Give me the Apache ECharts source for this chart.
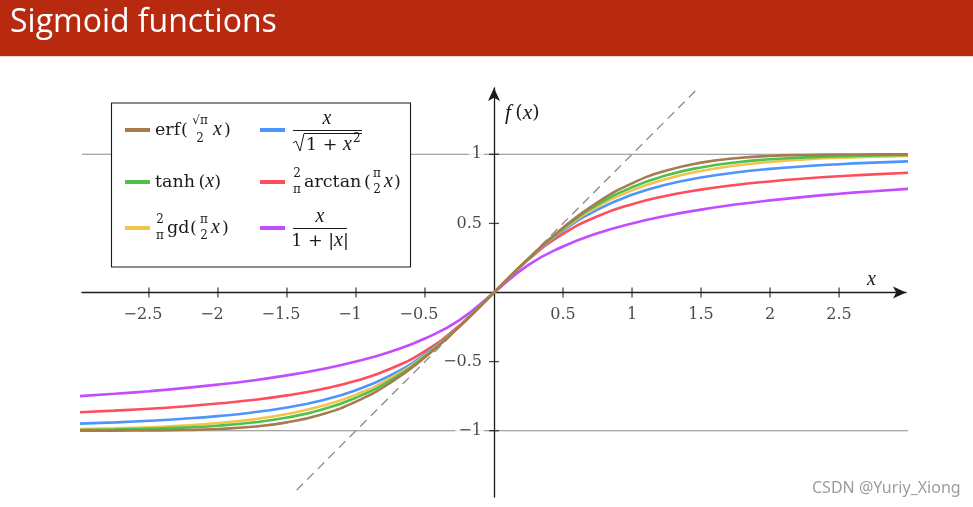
<!DOCTYPE html>
<html>
<head>
<meta charset="utf-8">
<script src="https://cdn.jsdelivr.net/npm/echarts@6/dist/echarts.min.js"></script>
<style>
html,body{margin:0;padding:0;background:#fff;}
#chart{width:973px;height:507px;}
</style>
</head>
<body>
<div id="chart"></div>
<script>
// ---- data ----
const xs = [-3,-2.75,-2.5,-2.25,-2,-1.75,-1.5,-1.25,-1,-0.75,-0.5,-0.25,0,0.25,0.5,0.75,1,1.25,1.5,1.75,2,2.25,2.5,2.75,3];
const erfVals  = [-0.9998,-0.9994,-0.9983,-0.9953,-0.9879,-0.9718,-0.9400,-0.8828,-0.7900,-0.6528,-0.4691,-0.2460,0,0.2460,0.4691,0.6528,0.7900,0.8828,0.9400,0.9718,0.9879,0.9953,0.9983,0.9994,0.9998];
const tanhVals = [-0.9951,-0.9918,-0.9866,-0.9780,-0.9640,-0.9414,-0.9051,-0.8483,-0.7616,-0.6351,-0.4621,-0.2449,0,0.2449,0.4621,0.6351,0.7616,0.8483,0.9051,0.9414,0.9640,0.9780,0.9866,0.9918,0.9951];
const sqrtVals = [-0.9487,-0.9398,-0.9285,-0.9138,-0.8944,-0.8682,-0.8321,-0.7809,-0.7071,-0.6000,-0.4472,-0.2425,0,0.2425,0.4472,0.6000,0.7071,0.7809,0.8321,0.8682,0.8944,0.9138,0.9285,0.9398,0.9487];
const atanVals = [-0.8670,-0.8552,-0.8417,-0.8246,-0.8038,-0.7779,-0.7445,-0.7002,-0.6391,-0.5520,-0.4239,-0.2383,0,0.2383,0.4239,0.5520,0.6391,0.7002,0.7445,0.7779,0.8038,0.8246,0.8417,0.8552,0.8670];
const gdVals   = [-0.9885,-0.9830,-0.9749,-0.9628,-0.9448,-0.9189,-0.8794,-0.8222,-0.7390,-0.6197,-0.4556,-0.2439,0,0.2439,0.4556,0.6197,0.7390,0.8222,0.8794,0.9189,0.9448,0.9628,0.9749,0.9830,0.9885];
const absVals  = [-0.7500,-0.7333,-0.7143,-0.6923,-0.6667,-0.6364,-0.6000,-0.5556,-0.5000,-0.4286,-0.3333,-0.2000,0,0.2000,0.3333,0.4286,0.5000,0.5556,0.6000,0.6364,0.6667,0.6923,0.7143,0.7333,0.7500];
const diagX = [-1.43, 1.46];
const refLevels = [1, -1];
const refX = [-2.985, 3];
const xTickVals = [-2.5,-2,-1.5,-1,-0.5,0.5,1,1.5,2,2.5];
const yTickVals = [-1,-0.5,0.5,1];
const titleText = 'Sigmoid functions';
const watermark = 'CSDN @Yuriy_Xiong';

const C = {erf:'#A87A4E', tanh:'#4CC24C', sqrt:'#4D94FF', atan:'#FF4D5B', gd:'#F4C34B', abs:'#C24DFF'};
const SERIF = '"DejaVu Serif"';
const ITAL = '"Liberation Serif"';
const ink = '#1a1a1a';

const pair = (arr) => xs.map((x,i)=>[x, arr[i]]);
const fmtNum = v => String(v).replace('-', '\u2212');

function curve(name, arr, color){
  return {name, type:'line', data:pair(arr), showSymbol:false, smooth:0.5,
    clip:false, z:3, lineStyle:{color, width:2.6}, itemStyle:{color}, silent:true};
}

// legend helpers (graphic)
function t(x, y, text, size, italic, align){
  const font = italic ? ('italic '+(size+2.5)+'px '+ITAL) : (size+'px '+SERIF);
  return {type:'text', x, y, z:102, silent:true, style:{text, font, fill:ink, align:align||'left', verticalAlign:'middle'}};
}
function rt(x, y, text, size, align){
  return {type:'text', x, y, z:102, silent:true, style:{text, align:align||'left', verticalAlign:'middle', fill:ink,
    rich:{n:{fontFamily:SERIF, fontSize:size, fill:ink}, i:{fontFamily:ITAL, fontSize:size+2.5, fontStyle:'italic', fill:ink}}}};
}
function sw(x, y, color){
  return {type:'line', z:102, silent:true, shape:{x1:x, y1:y, x2:x+25, y2:y}, style:{stroke:color, lineWidth:4}};
}
function hl(x1, x2, y){
  return {type:'line', z:102, silent:true, shape:{x1, y1:y, x2, y2:y}, style:{stroke:ink, lineWidth:1}};
}

const LS = 17.5, FS = 12;
const graphics = [
  {type:'rect', z:90, silent:true, shape:{x:0, y:0, width:973, height:56}, style:{fill:'#B72A10'}},
  {type:'rect', z:90, silent:true, shape:{x:0, y:56, width:973, height:1}, style:{fill:'#E6D6D2'}},
  {type:'text', z:91, x:10, y:23, silent:true, style:{text:titleText, font:'32px "Open Sans"', fill:'#fff', verticalAlign:'middle'}},
  // legend box
  {type:'rect', z:100, silent:true, shape:{x:111.5, y:103, width:299, height:164}, style:{fill:'#fff', stroke:ink, lineWidth:1.1}},
  sw(125,130,C.erf), sw(260,130,C.sqrt),
  sw(125,182,C.tanh), sw(260,182,C.atan),
  sw(125,228,C.gd), sw(260,228,C.abs),
  // erf(√π/2 x)
  t(155,130,'erf',LS), t(181,130,'(',LS), t(200,121,'\u221A\u03C0',FS,false,'center'), t(200,139,'2',FS,false,'center'),
  t(213,130,'x',LS,true), t(224,130,')',LS),
  // x / sqrt(1+x^2)
  t(327,119,'x',LS,true,'center'), hl(293,362,130.5),
  {type:'polyline', z:102, silent:true, shape:{points:[[293,143],[296,141],[300,151],[304,133.5],[362,133.5]]}, style:{stroke:ink, lineWidth:1, fill:null}},
  rt(306,145,'{n|1 + }{i|x}',LS), t(353,139,'2',FS),
  // tanh(x)
  rt(155,182,'{n|tanh\u2009(}{i|x}{n|)}',LS),
  // 2/π arctan(π/2 x)
  t(297,174,'2',FS,false,'center'), t(297,190,'\u03C0',FS,false,'center'),
  t(304,182,'arctan',LS), t(364,182,'(',LS), t(377,174,'\u03C0',FS,false,'center'), t(377,190,'2',FS,false,'center'),
  t(384,182,'x',LS,true), t(394,182,')',LS),
  // 2/π gd(π/2 x)
  t(160,220,'2',FS,false,'center'), t(160,236,'\u03C0',FS,false,'center'),
  t(167,228,'gd',LS), t(190,228,'(',LS), t(204,220,'\u03C0',FS,false,'center'), t(204,236,'2',FS,false,'center'),
  t(211,228,'x',LS,true), t(222,228,')',LS),
  // x / (1+|x|)
  t(320,217,'x',LS,true,'center'), hl(293,347,228.5), rt(320,241,'{n|1 + |}{i|x}{n||}',LS,'center'),
  // axis names
  rt(505,113,'{i|f\u2009}{n|(}{i|x}{n|)}',19),
  t(867,280,'x',LS,true),
  // watermark
  {type:'text', z:110, x:812, y:488, silent:true, style:{text:watermark, font:'16px "Noto Sans"', fill:'#9c9c9c', verticalAlign:'middle'}}
];

const chart = echarts.init(document.getElementById('chart'), null, {renderer:'canvas'});
const axisLineStyle = {color:ink, width:1.3};
const tickLabelStyle = {fontFamily:SERIF, fontSize:16, color:ink};
chart.setOption({
  animation:false,
  backgroundColor:'#fff',
  grid:{left:82, right:67, top:88, bottom:10, containLabel:false, outerBoundsMode:'none'},
  xAxis:{type:'value', min:-2.985, max:2.985, z:1,
    axisLine:{onZero:true, lineStyle:axisLineStyle, symbol:['none','arrow'], symbolSize:[9,13]},
    axisTick:{show:false}, splitLine:{show:false}, axisLabel:{show:false}},
  yAxis:{type:'value', min:-1.48, max:1.48, z:1,
    axisLine:{onZero:true, lineStyle:axisLineStyle, symbol:['none','arrow'], symbolSize:[9,13]},
    axisTick:{show:false}, splitLine:{show:false}, axisLabel:{show:false}},
  graphic:graphics,
  series:[
    ...refLevels.map(lv => ({type:'line', data:refX.map(x=>[x,lv]), showSymbol:false, clip:false, z:0, silent:true,
      lineStyle:{color:'#8a8a8a', width:1.1}})),
    {type:'scatter', data:xTickVals.map(v=>({value:[v,0], label:{offset:[v<0?-6:0,0]}})), symbol:'rect', symbolSize:[1.3,10], z:2, silent:true, itemStyle:{color:ink},
      label:{show:true, position:'bottom', distance:9, ...tickLabelStyle,
        formatter:p => fmtNum(p.value[0])}},
    {type:'scatter', data:yTickVals.map(v=>[0,v]), symbol:'rect', symbolSize:[10,1.3], z:2, silent:true, itemStyle:{color:ink},
      label:{show:true, position:'left', distance:5, ...tickLabelStyle, backgroundColor:'#fff', padding:[1,2,1,3],
        formatter:p => fmtNum(p.value[1])}},
    {type:'line', data:diagX.map(x=>[x,x]), showSymbol:false, clip:false, z:2, silent:true,
      lineStyle:{color:'#8a8a8a', width:1.3, type:[9,6]}},
    curve('abs', absVals, C.abs),
    curve('atan', atanVals, C.atan),
    curve('sqrt', sqrtVals, C.sqrt),
    curve('gd', gdVals, C.gd),
    curve('tanh', tanhVals, C.tanh),
    curve('erf', erfVals, C.erf)
  ]
});
</script>
</body>
</html>
